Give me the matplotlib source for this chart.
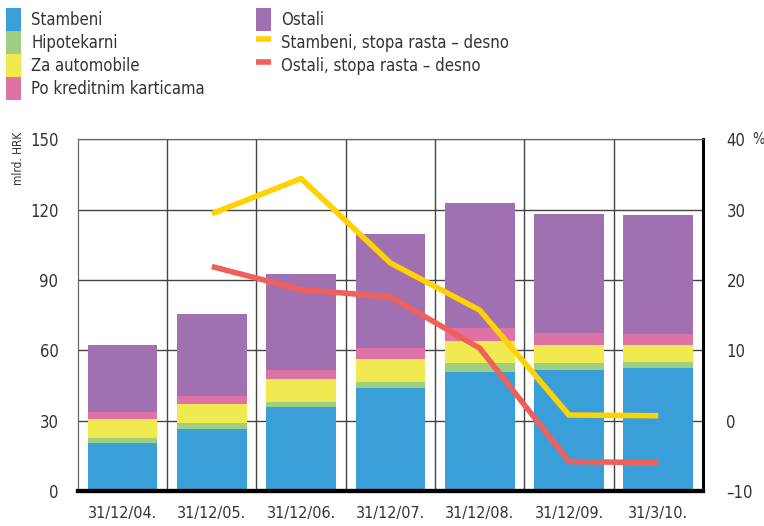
import matplotlib
matplotlib.use('Agg')
import matplotlib.pyplot as plt
import numpy as np

# podaci ocitani sa slike
datumi = ['31/12/04.', '31/12/05.', '31/12/06.', '31/12/07.', '31/12/08.', '31/12/09.', '31/3/10.']
stambeni = [20.3, 26.3, 35.7, 43.8, 50.8, 51.6, 52.4]
hipotekarni = [2.1, 2.5, 2.4, 2.8, 3.6, 3.1, 2.7]
automobili = [8.3, 8.3, 9.5, 9.5, 9.5, 7.5, 7.1]
kartice = [2.8, 3.5, 4.0, 4.7, 5.4, 5.0, 4.8]
ostali = [28.7, 34.8, 40.9, 48.7, 53.6, 50.9, 50.6]

# stope rasta (desna os), od 31/12/05.
stambeni_rast = [29.4, 34.4, 22.4, 15.7, 0.8, 0.7]
ostali_rast = [21.9, 18.6, 17.6, 10.3, -5.8, -6.0]

plt.rcParams['font.family'] = ['DejaVu Sans']
plt.rcParams['font.stretch'] = 'condensed'
plt.rcParams['text.color'] = '#333333'

fig = plt.figure(figsize=(7.64, 5.26), dpi=100)
ax = fig.add_axes([0.102, 0.0665, 0.818, 0.669])
ax2 = ax.twinx()

x = np.arange(len(datumi))
w = 0.78
serije = [(stambeni, '#3a9fd8', 'Stambeni'),
          (hipotekarni, '#9ecf80', 'Hipotekarni'),
          (automobili, '#f0ea50', 'Za automobile'),
          (kartice, '#df72a5', 'Po kreditnim karticama'),
          (ostali, '#a070b0', 'Ostali')]
dno = np.zeros(len(x))
ruke = []
for vals, boja, ime in serije:
    b = ax.bar(x, vals, w, bottom=dno, color=boja, label=ime, zorder=2)
    ruke.append(b)
    dno = dno + np.array(vals)

l1, = ax2.plot(x[1:], stambeni_rast, color='#ffd200', lw=4, solid_capstyle='butt',
               label='Stambeni, stopa rasta – desno')
l2, = ax2.plot(x[1:], ostali_rast, color='#f0605a', lw=4, solid_capstyle='butt',
               label='Ostali, stopa rasta – desno')

ax.set_xlim(-0.5, 6.5)
ax.set_ylim(0, 150)
ax.set_yticks([0, 30, 60, 90, 120, 150])
ax2.set_ylim(-10, 40)
ax2.set_yticks([-10, 0, 10, 20, 30, 40])
ax2.set_yticklabels(['–10', '0', '10', '20', '30', '40'])
ax.set_xticks(x)
ax.set_xticklabels(datumi)
ax.set_xticks(np.arange(0.5, 6), minor=True)

ax.set_axisbelow(True)
ax.grid(axis='y', color='#444444', lw=1)
ax.grid(axis='x', which='minor', color='#444444', lw=1)
ax.tick_params(axis='both', which='both', length=0, labelsize=12, colors='#333333')
ax.tick_params(axis='y', pad=14)
ax.tick_params(axis='x', labelsize=11.5, pad=11)
ax2.tick_params(axis='y', length=0, labelsize=12, colors='#333333', pad=17)

for a in (ax, ax2):
    a.spines['top'].set_color('#666666')
    a.spines['left'].set_color('#666666')
    a.spines['bottom'].set_linewidth(3)
    a.spines['bottom'].set_color('black')
    a.spines['right'].set_linewidth(2)
    a.spines['right'].set_color('black')

fig.text(0.016, 0.75, 'mlrd. HRK', rotation=90, ha='left', va='top', fontsize=8.5)
fig.text(0.985, 0.735, '%', ha='left', va='center', fontsize=10.5)

fig.legend(handles=ruke[:4], loc='upper left', bbox_to_anchor=(0.008, 0.985),
           frameon=False, fontsize=12, handlelength=0.9, handleheight=1.75,
           labelspacing=0.0, handletextpad=0.6, borderpad=0, borderaxespad=0)
fig.legend(handles=[ruke[4], l1, l2], loc='upper left', bbox_to_anchor=(0.335, 0.985),
           frameon=False, fontsize=12, handlelength=0.9, handleheight=1.75,
           labelspacing=0.0, handletextpad=0.6, borderpad=0, borderaxespad=0)

fig.savefig('out.png', dpi=100)
